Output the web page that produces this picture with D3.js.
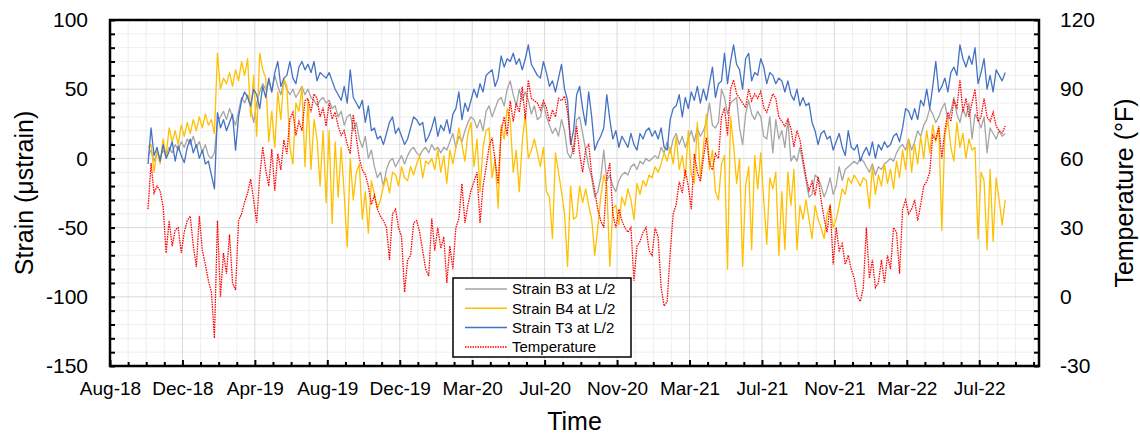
<!DOCTYPE html>
<html lang="en">
<head>
<meta charset="UTF-8">
<title>Strain and temperature</title>
<script src="https://cdnjs.cloudflare.com/ajax/libs/d3/7.8.5/d3.min.js"></script>
<style>
    body { margin: 0; background: #fff; }
    svg { display: block; font-family: "Liberation Sans", Arial, sans-serif; }
    .grid-minor line { stroke: #efefef; stroke-width: 1; }
    .grid-major line { stroke: #d9d9d9; stroke-width: 1; }
    .axis path { display: none; }
    .axis line { stroke: #000; stroke-width: 2; }
    .axis text { fill: #000; }
</style>
</head>
<body>
<script>
// readings every 5 days starting 10 Oct 2018
var startDay = new Date(2018, 9, 10);
var stepDays = 5;

var strainB3 = [
    2,6,-2,4,0,6,2,8,4,10, 6,12,8,14,10,16,8,12,4,10, 2,0,4,26,30,34,28,36,30,24,
    34,44,40,46,36,26,40,48,54,50, 56,48,60,52,46,56,
    50,46,50,44,48,52,46,50,44,42, 38,42,44,40,42,36,38,30,34,24, 30,32,20,26,14,8,16,0,6,-6,
    -14,-10,-20,-8,-2,0,-6,-2,2,-4, 2,6,8,4,2,6,8,4,
    10,6,8,4,8,6,12,18,8,16, 12,20,26,30,28,22,28,20,34,38, 30,36,42,44,38,50,56,46,38,50,
    42,48,42,32,38,28,30,40,30,24, 18,22,16,28,20,4,0,8,
    28,30,18,6,-6,-14,-28,-24,-14,6, -16,-12,-20,-24,-16,-12,-10,-12,-6,-4, -8,-2,-4,0,-2,0,2,0,8,4,
    12,4,14,18,10,16,8,14,20,12, 22,16,20,26,40,24,22,26,
    50,44,32,40,42,44,22,10,32,42, 32,28,34,30,16,14,30,4,28,14, 20,8,28,-2,2,-2,8,-4,-16,-28,
    -26,-12,-14,-20,-28,-22,-14,-26,-20,-6, -16,-8,-6,-4,-2,-4,0,-2,
    -6,-10,-4,-12,-6,-8,-4,-2,0,-2, 4,8,10,6,14,6,12,20,16,24, 28,36,32,26,30,36,40,28,34,44,
    32,26,36,30,40,14,32,28,22,30, 4,22,18,14,20,16,18
];

var strainB4 = [
    8,10,-10,6,-4,14,2,22,12,20, 10,24,16,26,18,28,20,30,22,32, 24,28,18,76,50,58,54,62,52,64,
    56,70,60,72,30,60,16,76,64,58, 12,34,8,48,28,58,
    52,8,-4,40,34,52,-6,42,-8,28, 14,-20,20,-32,20,-47,12,-28,8,-26, -64,0,-30,-10,-4,-44,-24,-54,-16,-26,
    -36,-30,-20,-14,-25,-10,-12,-20,-6,-14, -16,-6,-12,-4,2,-14,-2,-4,
    0,-8,6,-10,2,-18,6,-4,8,22, 10,-2,18,26,-6,14,-24,8,20,22, -14,0,-36,24,14,36,28,-10,6,-24,
    12,32,0,6,14,4,-6,8,-24,-28, -58,4,-10,-24,-40,-78,-20,-44,
    -42,-20,-32,-22,-34,-44,-70,-50,-28,-12, -20,-78,-36,-34,-48,-28,-34,-22,-30,-44, -18,-26,-16,-20,-12,-14,-6,-10,-4,4,
    -2,8,-4,16,-8,2,-14,20,-12,-18, 26,-14,8,32,-8,6,-24,-30,
    -4,2,-80,30,10,-18,0,-78,-20,-6, -66,2,-22,4,-30,-62,-14,-22,-10,-70, -24,-66,-10,-34,-8,-66,-34,-44,-30,-44,
    -58,-34,-44,-50,-58,-40,-34,-50,-44,-34, -22,-26,-14,-18,-12,-16,-20,-14,
    -16,-36,-6,-26,-12,-20,-4,-18,-8,-22, -2,-14,6,-8,14,-10,10,-4,16,0, 20,4,24,12,22,-52,16,28,8,-2,
    26,8,18,0,14,6,8,-58,-10,-16, -66,-8,-60,-14,-30,-48,-30
];

var strainT3 = [
    -4,22,2,8,-2,10,0,5,12,-2, 9,2,-3,8,14,4,10,0,6,-4, -2,-12,-22,33,22,28,20,26,32,6,
    30,42,48,44,38,50,46,36,52,44, 58,48,62,70,52,58,
    60,70,58,54,66,70,64,68,62,70, 56,62,60,58,62,56,50,46,42,52, 40,64,44,40,36,42,26,38,20,22,
    14,16,10,18,26,30,18,22,16,10, 14,22,30,28,24,26,12,16,
    22,30,16,24,20,28,18,32,36,48, 28,40,34,42,50,44,54,48,60,62, 64,52,58,74,66,72,70,76,68,72,
    64,72,82,68,64,60,58,70,62,52, 56,48,58,68,50,42,10,20,
    46,52,36,24,48,30,6,12,16,22, 46,28,14,20,8,16,12,8,18,10, 6,18,14,20,22,16,20,14,22,8,
    6,28,36,38,46,30,44,36,48,42, 52,40,50,42,54,66,44,54,
    56,76,54,70,82,68,64,50,72,76, 56,62,60,72,66,54,62,60,54,58, 56,48,56,46,42,50,38,44,38,40,
    26,20,10,18,20,14,16,6,12,18, 8,2,20,8,6,10,-2,4,
    8,2,12,0,10,6,12,8,10,16, 18,12,22,36,34,28,36,28,42,38, 50,36,52,70,48,52,58,48,62,66,
    60,82,72,66,74,68,80,54,62,72, 50,60,48,64,60,56,62
];

// temperature, degrees F
var temperature = [
    38,58,45,48,46,39,19,33,22,29, 30,19,28,33,35,22,13,35,20,14, 7,2,-18,33,0,19,10,27,6,3,
    33,36,41,45,51,42,32,52,65,55, 48,64,46,62,55,68,
    62,77,80,70,76,72,85,86,80,88, 86,78,82,74,84,77,80,74,70,72, 66,62,79,69,60,55,53,48,40,44,
    38,35,33,30,16,36,38,30,26,2, 16,18,32,33,28,20,12,9,
    34,20,30,21,26,6,22,12,30,34, 49,32,40,46,50,54,32,48,56,65, 69,59,49,72,78,70,85,76,84,80,
    91,77,94,86,85,84,81,85,82,76, 81,78,86,85,87,80,68,62,
    74,62,54,64,66,53,46,38,33,30, 52,58,36,30,38,33,30,28,30,7, 22,24,28,30,20,18,30,26,4,-4,
    -2,19,36,40,50,45,55,48,38,62, 54,50,60,69,58,55,62,60,
    78,82,70,90,94,88,86,84,82,90, 85,88,86,89,82,80,84,88,86,78, 76,74,77,73,65,72,68,60,52,46,
    50,44,52,42,34,28,40,14,30,20, 23,14,18,12,8,0,-2,4,
    30,8,16,4,6,16,6,18,12,30, 28,10,38,42,36,38,42,33,40,48, 50,54,70,68,74,60,72,80,76,85,
    82,94,80,86,78,84,90,76,78,86, 78,76,80,74,72,71,74
];

var seriesNames = ["Strain B3 at L/2", "Strain B4 at L/2", "Strain T3 at L/2", "Temperature"];
var seriesColors = ["#a5a5a5", "#ffc000", "#4472c4", "#ff0000"];

var strainTicks = [-150, -100, -50, 0, 50, 100];
var tempTicks = [-30, 0, 30, 60, 90, 120];
var axisStart = new Date(2018, 7, 8);
var axisEnd = new Date(2022, 9, 25);
var majorDays = 120, minorDays = 30;

var W = 1140, H = 435;
var margin = {top: 20, right: 101, bottom: 69, left: 110};
var width = W - margin.left - margin.right,
    height = H - margin.top - margin.bottom;

var svg = d3.select("body").append("svg")
    .attr("width", W).attr("height", H);
var g = svg.append("g")
    .attr("transform", "translate(" + margin.left + "," + margin.top + ")");

var x = d3.scaleTime().domain([axisStart, axisEnd]).range([0, width]);
var y = d3.scaleLinear().domain([-150, 100]).range([height, 0]);
var y2 = d3.scaleLinear().domain([-30, 120]).range([height, 0]);

// plain hyphen minus like the original
var numFmt = function(v) { return String(v); };

var dates = strainB3.map(function(v, i) { return d3.timeDay.offset(startDay, i * stepDays); });

var majorDates = [], minorDates = [];
for (var d = 0; d3.timeDay.offset(axisStart, d) <= axisEnd; d += minorDays) {
    var dt = d3.timeDay.offset(axisStart, d);
    if (d % majorDays === 0) majorDates.push(dt); else minorDates.push(dt);
}
var minorStrain = d3.range(-150, 101, 10).filter(function(v) { return v % 50 !== 0; });

// grid
g.append("g").attr("class", "grid-minor")
    .selectAll("line").data(minorDates).enter().append("line")
    .attr("x1", x).attr("x2", x).attr("y1", 0).attr("y2", height);
g.append("g").attr("class", "grid-minor")
    .selectAll("line").data(minorStrain).enter().append("line")
    .attr("x1", 0).attr("x2", width).attr("y1", y).attr("y2", y);
g.append("g").attr("class", "grid-major")
    .selectAll("line").data(majorDates).enter().append("line")
    .attr("x1", x).attr("x2", x).attr("y1", 0).attr("y2", height);
g.append("g").attr("class", "grid-major")
    .selectAll("line").data(strainTicks).enter().append("line")
    .attr("x1", 0).attr("x2", width).attr("y1", y).attr("y2", y);

// series
var strainSets = [strainB3, strainB4, strainT3];
strainSets.forEach(function(vals, k) {
    var line = d3.line()
        .x(function(v, i) { return x(dates[i]); })
        .y(function(v) { return y(v); });
    g.append("path").datum(vals)
        .attr("fill", "none")
        .attr("stroke", seriesColors[k])
        .attr("stroke-width", 1.3)
        .attr("stroke-linejoin", "round")
        .attr("d", line);
});
var tLine = d3.line()
    .x(function(v, i) { return x(dates[i]); })
    .y(function(v) { return y2(v); });
g.append("path").datum(temperature)
    .attr("fill", "none")
    .attr("stroke", seriesColors[3])
    .attr("stroke-width", 1.3)
    .attr("stroke-dasharray", "1.5 1")
    .attr("d", tLine);

// axes
g.append("g").attr("class", "axis")
    .attr("transform", "translate(0," + height + ")")
    .call(d3.axisBottom(x).tickValues(minorDates).tickSizeInner(-4).tickSizeOuter(0).tickFormat(""));
g.append("g").attr("class", "axis")
    .attr("transform", "translate(0," + height + ")")
    .call(d3.axisBottom(x).tickValues(majorDates).tickSizeInner(-6).tickSizeOuter(0)
        .tickPadding(16).tickFormat(d3.timeFormat("%b-%y")))
    .selectAll("text").style("font-size", "19px");

g.append("g").attr("class", "axis")
    .call(d3.axisLeft(y).tickValues(minorStrain).tickSizeInner(-5).tickSizeOuter(0).tickFormat(""));
g.append("g").attr("class", "axis")
    .call(d3.axisLeft(y).tickValues(strainTicks).tickSizeInner(-5).tickSizeOuter(0)
        .tickPadding(22).tickFormat(numFmt))
    .selectAll("text").style("font-size", "21px");

g.append("g").attr("class", "axis")
    .attr("transform", "translate(" + width + ",0)")
    .call(d3.axisRight(y).tickValues(minorStrain).tickSizeInner(-5).tickSizeOuter(0).tickFormat(""));
g.append("g").attr("class", "axis")
    .attr("transform", "translate(" + width + ",0)")
    .call(d3.axisRight(y2).tickValues(tempTicks).tickSizeInner(-5).tickSizeOuter(0)
        .tickPadding(21).tickFormat(numFmt))
    .selectAll("text").style("font-size", "21px");

// frame
g.append("rect")
    .attr("width", width).attr("height", height)
    .attr("fill", "none").attr("stroke", "#000").attr("stroke-width", 2.5);

// axis titles
svg.append("text")
    .attr("transform", "translate(33," + (margin.top + height / 2) + ") rotate(-90)")
    .attr("text-anchor", "middle").style("font-size", "25px")
    .text("Strain (\u03bcstrain)");
svg.append("text")
    .attr("transform", "translate(1133," + (margin.top + height / 2) + ") rotate(-90)")
    .attr("text-anchor", "middle").style("font-size", "25px")
    .text("Temperature (\u00b0F)");
svg.append("text")
    .attr("x", margin.left + width / 2).attr("y", 430)
    .attr("text-anchor", "middle").style("font-size", "25px")
    .text("Time");

// legend
var legend = svg.append("g").attr("transform", "translate(453,278)");
legend.append("rect")
    .attr("width", 178).attr("height", 79)
    .attr("fill", "#fff").attr("stroke", "#000").attr("stroke-width", 1.5);
var item = legend.selectAll(".item").data(seriesNames).enter().append("g")
    .attr("transform", function(d, i) { return "translate(0," + (11 + i * 19.3) + ")"; });
item.append("line")
    .attr("x1", 12).attr("x2", 54)
    .attr("stroke", function(d, i) { return seriesColors[i]; })
    .attr("stroke-width", 1.5)
    .attr("stroke-dasharray", function(d, i) { return i === 3 ? "1.5 1" : null; });
item.append("text")
    .attr("x", 59).attr("dy", "0.35em")
    .style("font-size", "15px")
    .text(function(d) { return d; });
</script>
</body>
</html>
